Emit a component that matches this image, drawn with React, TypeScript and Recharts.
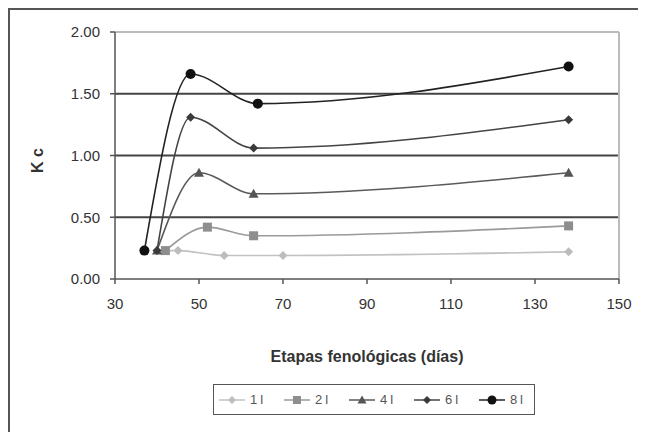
import React from 'react';
import { LineChart, Line, XAxis, YAxis, Legend, ReferenceLine } from 'recharts';

// days after planting (x) and crop coefficient Kc (y) per series
const l1Days = [42, 45, 56, 70, 138];
const l1Kc = [0.23, 0.23, 0.19, 0.19, 0.22];
const l2Days = [42, 52, 63, 138];
const l2Kc = [0.23, 0.42, 0.35, 0.43];
const l4Days = [40, 50, 63, 138];
const l4Kc = [0.23, 0.86, 0.69, 0.86];
const l6Days = [40, 48, 63, 138];
const l6Kc = [0.23, 1.31, 1.06, 1.29];
const l8Days = [37, 48, 64, 138];
const l8Kc = [0.23, 1.66, 1.42, 1.72];

const xTicks = [30, 50, 70, 90, 110, 130, 150];
const yTicks = [0, 0.5, 1, 1.5, 2];
const gridValues = [0.5, 1, 1.5];

const toPoints = (days: number[], kc: number[]) => days.map((d, i) => ({ x: d, y: kc[i] }));

type ShapeKind = 'circle' | 'diamond' | 'triangle' | 'square';

const series = [
  { name: '1l', data: toPoints(l1Days, l1Kc), stroke: '#c2c2c2', fill: '#bdbdbd', shape: 'diamond' as ShapeKind, size: 4.5 },
  { name: '2l', data: toPoints(l2Days, l2Kc), stroke: '#9a9a9a', fill: '#8e8e8e', shape: 'square' as ShapeKind, size: 4.5 },
  { name: '4l', data: toPoints(l4Days, l4Kc), stroke: '#5a5a5a', fill: '#555', shape: 'triangle' as ShapeKind, size: 5 },
  { name: '6l', data: toPoints(l6Days, l6Kc), stroke: '#444', fill: '#3a3a3a', shape: 'diamond' as ShapeKind, size: 4.5 },
  { name: '8l', data: toPoints(l8Days, l8Kc), stroke: '#222', fill: '#111', shape: 'circle' as ShapeKind, size: 5 },
];

function Marker({ cx, cy, shape, size, fill }: { cx: number; cy: number; shape: ShapeKind; size: number; fill: string }) {
  if (shape === 'circle') return <circle cx={cx} cy={cy} r={size} fill={fill} />;
  if (shape === 'square') return <rect x={cx - size} y={cy - size} width={size * 2} height={size * 2} fill={fill} />;
  if (shape === 'triangle')
    return <polygon points={`${cx},${cy - size} ${cx + size},${cy + size * 0.8} ${cx - size},${cy + size * 0.8}`} fill={fill} />;
  return <polygon points={`${cx},${cy - size} ${cx + size},${cy} ${cx},${cy + size} ${cx - size},${cy}`} fill={fill} />;
}

const font = 'Arial, "Liberation Sans", sans-serif';

function LegendBox() {
  return (
    <div
      style={{
        display: 'flex',
        alignItems: 'center',
        justifyContent: 'space-between',
        height: 29,
        border: '1px solid #555',
        boxSizing: 'content-box',
        padding: '0 8px 0 4px',
        fontFamily: font,
        fontSize: 13,
        color: '#555',
      }}
    >
      {series.map((s) => (
        <div key={s.name} style={{ display: 'flex', alignItems: 'center' }}>
          <svg width={28} height={12}>
            <line x1={1} y1={6} x2={27} y2={6} stroke={s.stroke} strokeWidth={1.5} />
            <Marker cx={14} cy={6} shape={s.shape} size={s.size - 0.5} fill={s.fill} />
          </svg>
          <span style={{ marginLeft: 4, letterSpacing: 3 }}>{s.name}</span>
        </div>
      ))}
    </div>
  );
}

export default function App() {
  return (
    <div style={{ width: 636, height: 422, borderTop: '2px solid #555', borderLeft: '2px solid #555', background: '#fff' }}>
      <LineChart width={636} height={422} margin={{ top: 22, right: 27, left: 0, bottom: 17 }}>
        <XAxis
          type="number"
          dataKey="x"
          domain={[30, 150]}
          ticks={xTicks}
          interval={0}
          height={105}
          tickSize={5}
          tickMargin={14}
          stroke="#555"
          strokeWidth={1.5}
          tick={{ fill: '#333', fontSize: 15, fontFamily: font }}
          label={{
            value: 'Etapas fenológicas (días)',
            position: 'insideBottom',
            offset: 22,
            fill: '#333',
            fontSize: 16,
            fontWeight: 'bold',
            fontFamily: font,
          }}
        />
        <YAxis
          type="number"
          dataKey="y"
          domain={[0, 2]}
          ticks={yTicks}
          interval={0}
          width={105}
          tickSize={5}
          tickMargin={10}
          tickFormatter={(v: number) => v.toFixed(2)}
          stroke="#555"
          strokeWidth={1.5}
          tick={{ fill: '#333', fontSize: 15, fontFamily: font }}
          label={{
            content: ({ viewBox }: any) => {
              const cx = viewBox.x + 27;
              const cy = viewBox.y + viewBox.height / 2 + 5;
              return (
                <text
                  x={cx}
                  y={cy}
                  transform={`rotate(-90 ${cx} ${cy})`}
                  textAnchor="middle"
                  dominantBaseline="central"
                  fill="#333"
                  fontSize={16}
                  fontWeight="bold"
                  fontFamily={font}
                >
                  K c
                </text>
              );
            },
          }}
        />
        {gridValues.map((v) => (
          <ReferenceLine key={v} y={v} stroke="#444" strokeWidth={2} />
        ))}
        <ReferenceLine y={2} stroke="#bbb" strokeWidth={2} />
        <ReferenceLine x={150} stroke="#bbb" strokeWidth={2} />
        <Legend
          verticalAlign="bottom"
          wrapperStyle={{ left: 203, bottom: 17, width: 322 }}
          content={() => <LegendBox />}
        />
        {series.map((s) => (
          <Line
            key={s.name}
            name={s.name}
            data={s.data}
            dataKey="y"
            type="monotone"
            stroke={s.stroke}
            strokeWidth={1.6}
            isAnimationActive={false}
            dot={(p: any) => (
              <Marker key={`${s.name}-${p.index}`} cx={p.cx} cy={p.cy} shape={s.shape} size={s.size} fill={s.fill} />
            )}
            activeDot={false}
          />
        ))}
      </LineChart>
    </div>
  );
}
